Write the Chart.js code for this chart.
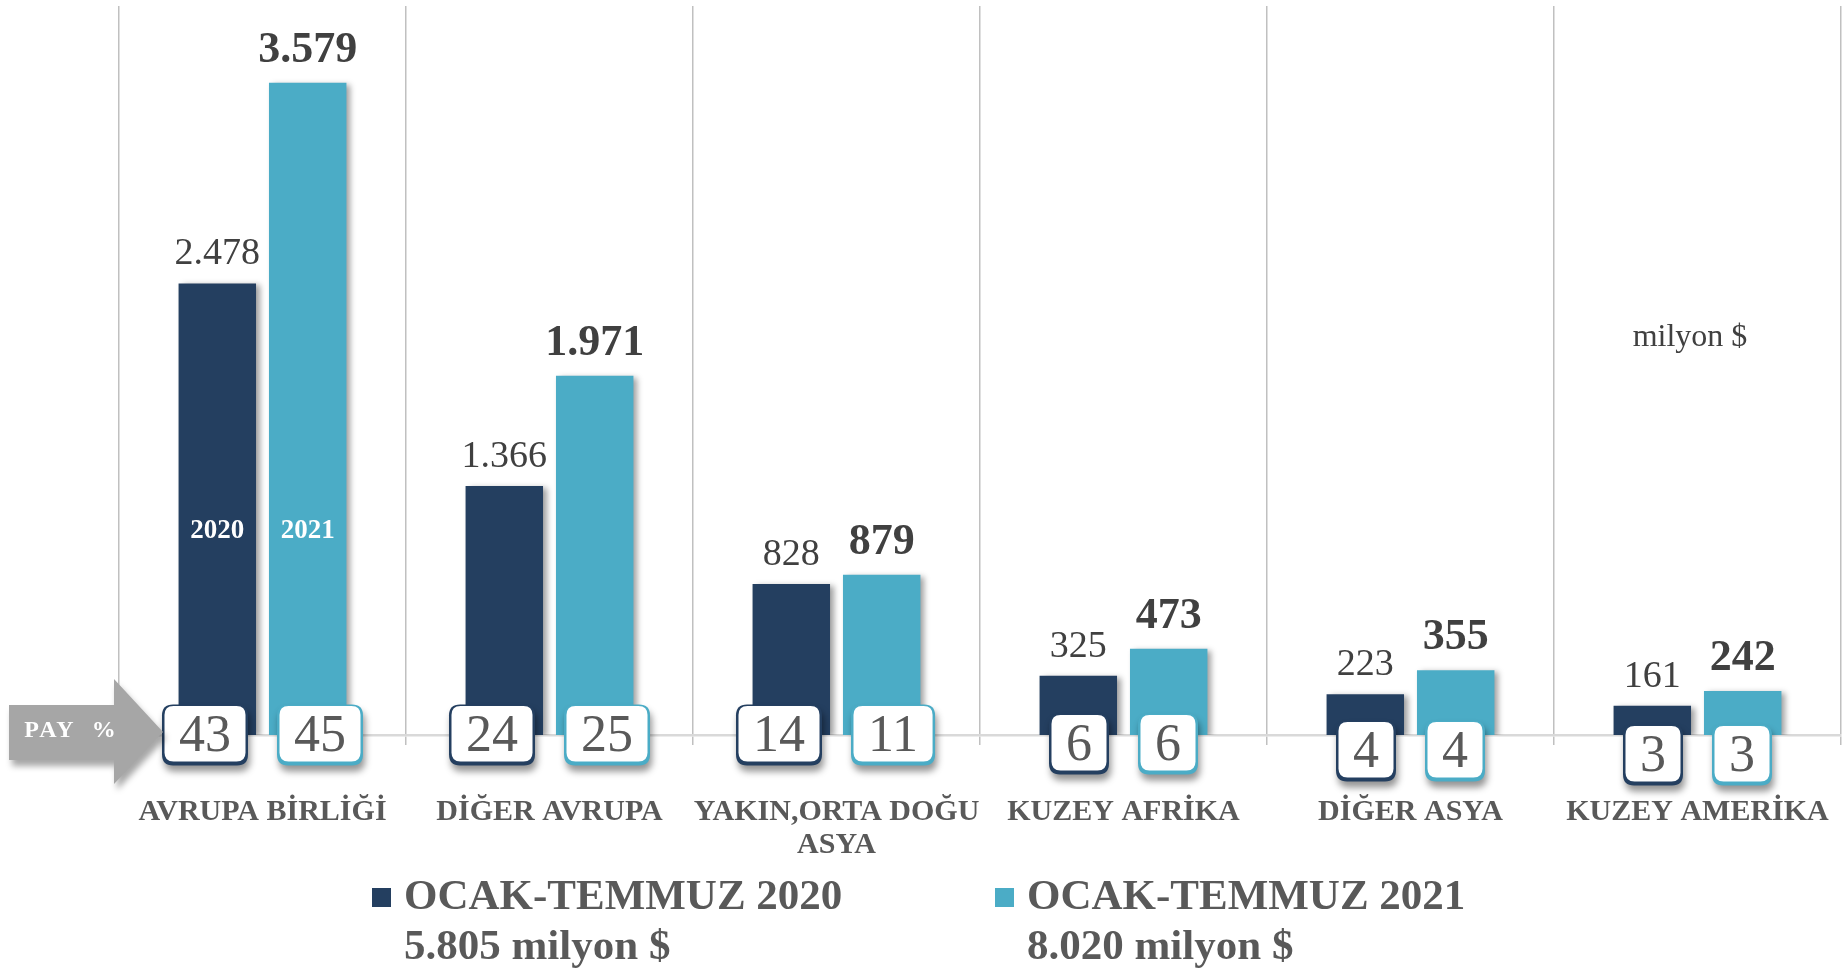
<!DOCTYPE html>
<html><head><meta charset="utf-8">
<script src="https://cdn.jsdelivr.net/npm/chart.js@4/dist/chart.umd.min.js"></script>
<style>html,body{margin:0;padding:0;background:#fff;overflow:hidden}#wrap{width:1845px;height:969px;position:relative}</style>
</head><body><div id="wrap"><canvas id="c" width="1845" height="969"></canvas></div>
<script>
const categories = ['AVRUPA BİRLİĞİ', 'DİĞER AVRUPA', ['YAKIN,ORTA DOĞU', 'ASYA'], 'KUZEY AFRİKA', 'DİĞER ASYA', 'KUZEY AMERİKA'];
const seriesNames = ['OCAK-TEMMUZ 2020', 'OCAK-TEMMUZ 2021'];
const values2020 = [2478, 1366, 828, 325, 223, 161];
const values2021 = [3579, 1971, 879, 473, 355, 242];
const share2020 = [43, 24, 14, 6, 4, 3];
const share2021 = [45, 25, 11, 6, 4, 3];
const totals = [5805, 8020];
const yearTags = ['2020', '2021'];
const unitLabel = 'milyon $';
const payLabel = 'PAY  %';
const totalUnit = 'milyon $';

const C2020 = '#243f60', C2021 = '#4bacc6';
const fmt = v => String(v).replace(/\B(?=(\d{3})+(?!\d))/g, '.');
const SERIF = '"Liberation Serif", "Times New Roman", serif';

function rrect(ctx, x, y, w, h, r) {
  ctx.beginPath();
  ctx.moveTo(x + r, y); ctx.lineTo(x + w - r, y); ctx.quadraticCurveTo(x + w, y, x + w, y + r);
  ctx.lineTo(x + w, y + h - r); ctx.quadraticCurveTo(x + w, y + h, x + w - r, y + h);
  ctx.lineTo(x + r, y + h); ctx.quadraticCurveTo(x, y + h, x, y + h - r);
  ctx.lineTo(x, y + r); ctx.quadraticCurveTo(x, y, x + r, y); ctx.closePath();
}

const shadowPlugin = {
  id: 'barShadow',
  beforeDatasetsDraw(chart) {
    const c = chart.ctx; c.save();
    c.shadowColor = 'rgba(0,0,0,0.38)'; c.shadowBlur = 6; c.shadowOffsetX = 4; c.shadowOffsetY = 2;
  },
  afterDatasetsDraw(chart) { chart.ctx.restore(); }
};

const overlay = {
  id: 'overlay',
  afterDatasetsDraw(chart, args, opts) {
    const ctx = chart.ctx, xs = chart.scales.x, ys = chart.scales.y;
    const base = ys.getPixelForValue(0);
    const colors = [C2020, C2021];
    chart.data.datasets.forEach((ds, di) => {
      const meta = chart.getDatasetMeta(di);
      meta.data.forEach((bar, i) => {
        ctx.save();
        ctx.fillStyle = '#404040';
        ctx.font = di === 0 ? '38px ' + SERIF : 'bold 44px ' + SERIF;
        ctx.textAlign = 'center'; ctx.textBaseline = 'alphabetic';
        ctx.fillText(fmt(ds.data[i]), bar.x, bar.y - (di === 0 ? 19 : 21));
        ctx.restore();
      });
      const b0 = meta.data[0];
      ctx.save();
      ctx.fillStyle = '#ffffff'; ctx.font = 'bold 27px ' + SERIF;
      ctx.textAlign = 'center'; ctx.textBaseline = 'middle';
      ctx.fillText(yearTags[di], b0.x, ys.getPixelForValue(opts.tagValue));
      ctx.restore();
    });
    // share boxes
    ctx.save();
    ctx.font = '52px ' + SERIF;
    categories.forEach((c, i) => {
      const cx = xs.getPixelForValue(i);
      const cy = base + opts.boxDy[i];
      const t0 = String(share2020[i]), t1 = String(share2021[i]);
      const w0 = ctx.measureText(t0).width + 2 * opts.boxPad;
      const w1 = ctx.measureText(t1).width + 2 * opts.boxPad;
      const h = opts.boxH;
      const boxes = [
        { x: cx - opts.boxGap / 2 - w0, w: w0, t: t0, col: colors[0] },
        { x: cx + opts.boxGap / 2, w: w1, t: t1, col: colors[1] }
      ];
      boxes.forEach(b => {
        const y0 = cy - h / 2;
        ctx.save();
        ctx.shadowColor = 'rgba(0,0,0,0.42)'; ctx.shadowBlur = 7; ctx.shadowOffsetX = 2; ctx.shadowOffsetY = 6;
        rrect(ctx, b.x, y0, b.w, h, 11);
        ctx.fillStyle = b.col; ctx.fill();
        ctx.restore();
        ctx.save();
        rrect(ctx, b.x + 2.5, y0 + 1.5, b.w - 5, h - 5.5, 9);
        ctx.fillStyle = '#ffffff'; ctx.fill();
        ctx.fillStyle = '#595959'; ctx.font = '52px ' + SERIF;
        ctx.textAlign = 'center'; ctx.textBaseline = 'middle';
        ctx.fillText(b.t, b.x + b.w / 2, cy + 2);
        ctx.restore();
      });
    });
    ctx.restore();
  },
  afterDraw(chart, args, opts) {
    const ctx = chart.ctx, ys = chart.scales.y;
    const base = ys.getPixelForValue(0);
    const L = chart.chartArea.left;
    // PAY % arrow
    ctx.save();
    ctx.shadowColor = 'rgba(0,0,0,0.35)'; ctx.shadowBlur = 6; ctx.shadowOffsetX = 3; ctx.shadowOffsetY = 6;
    ctx.fillStyle = '#a6a6a6';
    ctx.beginPath();
    ctx.moveTo(9, base - 30); ctx.lineTo(L - 5, base - 30); ctx.lineTo(L - 5, base - 56);
    ctx.lineTo(L + 44, base - 3); ctx.lineTo(L - 5, base + 49); ctx.lineTo(L - 5, base + 25);
    ctx.lineTo(9, base + 25); ctx.closePath(); ctx.fill();
    ctx.restore();
    ctx.save();
    ctx.fillStyle = '#ffffff'; ctx.font = 'bold 24px ' + SERIF;
    if ('letterSpacing' in ctx) ctx.letterSpacing = '2px';
    ctx.textAlign = 'center'; ctx.textBaseline = 'middle';
    ctx.fillText(payLabel, 71, base - 4);
    ctx.restore();
    // unit label
    ctx.save();
    ctx.fillStyle = '#404040'; ctx.font = '32px ' + SERIF;
    ctx.textAlign = 'center'; ctx.textBaseline = 'middle';
    ctx.fillText(unitLabel, opts.unitX, opts.unitY);
    ctx.restore();
    // legend
    const colors = [C2020, C2021];
    seriesNames.forEach((name, i) => {
      const lx = opts.legendX[i];
      ctx.save();
      ctx.fillStyle = colors[i];
      ctx.fillRect(lx, opts.legendY - 10, 19, 19);
      ctx.fillStyle = '#595959'; ctx.font = 'bold 43px ' + SERIF;
      ctx.textAlign = 'left'; ctx.textBaseline = 'middle';
      ctx.fillText(name, lx + 32, opts.legendY);
      ctx.fillText(fmt(totals[i]) + ' ' + totalUnit, lx + 32, opts.legendY + 50);
      ctx.restore();
    });
  }
};

new Chart(document.getElementById('c'), {
  type: 'bar',
  data: {
    labels: categories,
    datasets: [
      { label: seriesNames[0], data: values2020, backgroundColor: C2020, categoryPercentage: 0.63, barPercentage: 0.857 },
      { label: seriesNames[1], data: values2021, backgroundColor: C2021, categoryPercentage: 0.63, barPercentage: 0.857 }
    ]
  },
  options: {
    responsive: false, animation: false, devicePixelRatio: 1,
    layout: { padding: { left: 119, right: 4, top: 6, bottom: 104 } },
    plugins: {
      legend: { display: false }, tooltip: { enabled: false },
      overlay: {
        tagValue: 1120, boxDy: [0, 0, 0, 9, 16, 20], boxPad: 17, boxH: 61, boxGap: 29,
        unitX: 1690, unitY: 338, legendX: [372, 995], legendY: 898
      }
    },
    scales: {
      x: {
        grid: { color: '#c0c0c0', lineWidth: 1.5, offset: true, drawTicks: true, tickLength: 10, tickColor: '#c0c0c0' },
        border: { display: true, color: '#d9d9d9', width: 2.5 },
        ticks: { color: '#595959', font: { family: 'Liberation Serif', size: 30, weight: 'bold', lineHeight: 1.12 }, padding: 50, autoSkip: false, maxRotation: 0, minRotation: 0 },
        afterFit: s => { s.height = 130; s.paddingLeft = 0; s.paddingRight = 0; }
      },
      y: { display: false, min: 0, max: 4000 }
    }
  },
  plugins: [shadowPlugin, overlay]
});
</script></body></html>
